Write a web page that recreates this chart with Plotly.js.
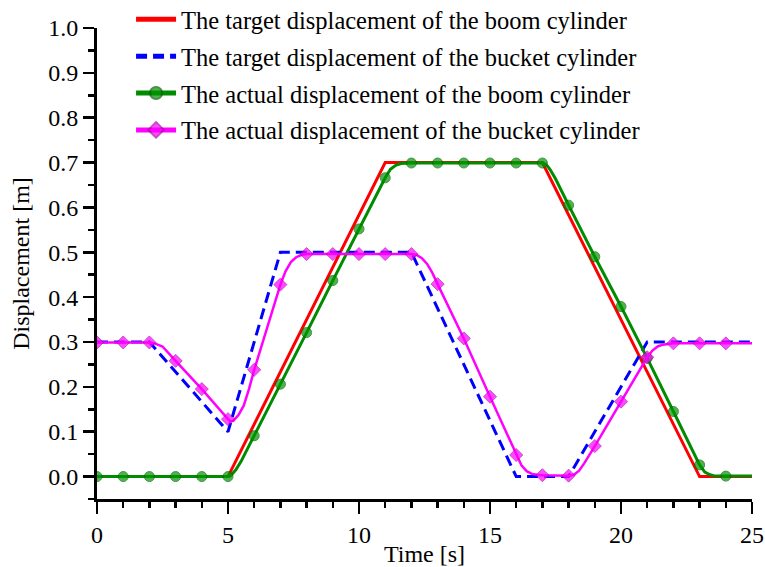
<!DOCTYPE html>
<html>
<head>
<meta charset="utf-8">
<script src="https://cdn.plot.ly/plotly-3.0.1.min.js"></script>
<style>html,body{margin:0;padding:0;background:#fff;}#chart{width:765px;height:567px;}</style>
</head>
<body>
<div id="chart"></div>
<script>
// ---- Data ----
const seriesNames = [
  'The target displacement of the boom cylinder',
  'The target displacement of the bucket cylinder',
  'The actual displacement of the boom cylinder',
  'The actual displacement of the bucket cylinder'
];

const boomTargetT = [0, 5, 11, 17, 23, 25];
const boomTargetY = [0, 0, 0.7, 0.7, 0, 0];

const bucketTargetT = [0, 2, 5, 7, 12, 16, 18, 21, 25];
const bucketTargetY = [0.3, 0.3, 0.1, 0.5, 0.5, 0, 0, 0.3, 0.3];

const boomActualT = [0, 1, 2, 3, 4, 5, 5.1, 5.2, 5.3, 5.5, 6, 7, 8, 9, 10, 11, 11.2, 11.4, 11.6, 12,
  13, 14, 15, 16, 17, 17.1, 17.2, 17.3, 17.5, 18, 19, 20, 21, 22, 23, 23.2, 23.4, 23.6, 24, 25];
const boomActualY = [0, 0, 0, 0, 0, 0, 0.002, 0.008, 0.015, 0.034, 0.091, 0.206, 0.321, 0.437, 0.552, 0.666, 0.685, 0.694, 0.698, 0.699,
  0.699, 0.699, 0.699, 0.699, 0.699, 0.697, 0.692, 0.684, 0.664, 0.605, 0.49, 0.379, 0.264, 0.145, 0.026, 0.01, 0.004, 0.001, 0.001, 0.001];

const bucketActualT = [0, 1, 2, 2.2, 2.5, 3, 4, 5, 5.1, 5.2, 5.4, 5.6, 5.8, 6, 6.5, 7, 7.2, 7.4, 7.6, 7.8, 8,
  9, 10, 11, 12, 12.2, 12.4, 12.6, 12.8, 13, 14, 15, 16, 16.2, 16.4, 16.6, 16.8, 17, 18, 18.2, 18.4, 18.6,
  19, 20, 21, 21.2, 21.4, 21.6, 21.8, 22, 23, 24, 25];
const bucketActualY = [0.299, 0.299, 0.299, 0.297, 0.29, 0.258, 0.195, 0.128, 0.123, 0.124, 0.137, 0.158, 0.195, 0.238, 0.335, 0.428, 0.458, 0.478, 0.489, 0.494, 0.496,
  0.496, 0.496, 0.496, 0.496, 0.494, 0.487, 0.474, 0.454, 0.429, 0.308, 0.178, 0.048, 0.025, 0.012, 0.006, 0.004, 0.003, 0.002, 0.004, 0.013, 0.03,
  0.068, 0.167, 0.266, 0.281, 0.29, 0.294, 0.296, 0.297, 0.297, 0.297, 0.297];

const lastMarkerTime = 24; // symbols drawn every whole second up to here

// ---- Styling helpers ----
function markerSizes(ts, s) { return ts.map(t => (Number.isInteger(t) && t <= lastMarkerTime) ? s : 0); }
function markerLines(ts, w) { return ts.map(t => (Number.isInteger(t) && t <= lastMarkerTime) ? w : 0); }

const FONT = 'Liberation Serif, Times New Roman, serif';
const FS = 24;

const traces = [
  {
    x: boomTargetT, y: boomTargetY, name: seriesNames[0], mode: 'lines', legendgroup: 'a',
    line: { color: '#ff0000', width: 3 }
  },
  {
    x: bucketTargetT, y: bucketTargetY, name: seriesNames[1], mode: 'lines', legendgroup: 'b',
    line: { color: '#0000ff', width: 3, dash: '11px,6px' }
  },
  {
    x: boomActualT, y: boomActualY, name: seriesNames[2], mode: 'lines+markers', legendgroup: 'c',
    line: { color: '#008c00', width: 3 },
    marker: { symbol: 'circle', color: '#009600', size: markerSizes(boomActualT, 10),
      line: { color: '#006000', width: markerLines(boomActualT, 1) } }
  },
  {
    x: bucketActualT, y: bucketActualY, name: seriesNames[3], mode: 'lines+markers', legendgroup: 'd',
    line: { color: '#ff00ff', width: 2.5 },
    marker: { symbol: 'diamond', color: '#ff00ff', size: markerSizes(bucketActualT, 10),
      line: { color: '#b000b0', width: markerLines(bucketActualT, 1) } }
  }
];

const layout = {
  width: 765, height: 567,
  margin: { l: 97, r: 13, t: 28, b: 68, autoexpand: false },
  paper_bgcolor: '#ffffff', plot_bgcolor: '#ffffff',
  font: { family: FONT, size: FS, color: '#000' },
  showlegend: true,
  legend: {
    x: 0.052, y: 1.066, xanchor: 'left', yanchor: 'top',
    bgcolor: 'rgba(0,0,0,0)', borderwidth: 0,
    font: { family: FONT, size: 24.5, color: '#000' },
    tracegroupgap: 2, itemsizing: 'constant', itemwidth: 40
  },
  xaxis: {
    range: [0, 25], dtick: 5, tick0: 0,
    showline: true, linecolor: '#000', linewidth: 3,
    ticks: 'outside', ticklen: 12, tickwidth: 2.5, tickcolor: '#000',
    minor: { dtick: 1, ticks: 'outside', ticklen: 6, tickwidth: 2.5, tickcolor: '#000' },
    showgrid: false, zeroline: false, mirror: false,
    tickfont: { family: FONT, size: FS },
    title: { text: 'Time [s]', font: { family: FONT, size: FS }, standoff: 2 }
  },
  yaxis: {
    range: [-0.05, 1.0], dtick: 0.1, tick0: 0, tickformat: '.1f',
    showline: true, linecolor: '#000', linewidth: 3,
    ticks: 'outside', ticklen: 11, tickwidth: 2.5, tickcolor: '#000',
    minor: { dtick: 0.05, ticks: 'outside', ticklen: 6, tickwidth: 2.5, tickcolor: '#000' },
    showgrid: false, zeroline: false, mirror: false,
    tickfont: { family: FONT, size: FS },
    title: { text: 'Displacement [m]', font: { family: FONT, size: FS }, standoff: 12 }
  }
};

Plotly.newPlot('chart', traces, layout, { displayModeBar: false, staticPlot: true });
</script>
</body>
</html>
